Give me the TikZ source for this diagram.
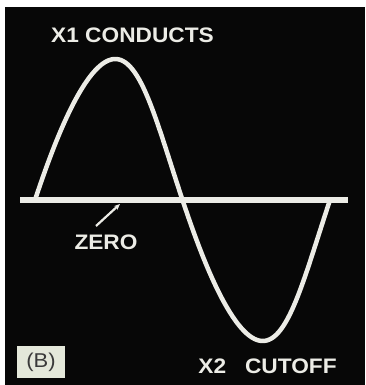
\documentclass[tikz,border=0pt]{standalone}
\usepackage{fontspec}
\setmainfont{Liberation Sans}
\usetikzlibrary{arrows.meta,positioning}
\definecolor{Scope}{HTML}{070707}
\definecolor{Trace}{HTML}{ECECE6}
\definecolor{Tag}{HTML}{E4E8DA}
\definecolor{TagInk}{HTML}{3A3A3A}
\tikzset{
  >=Stealth,
  trace/.style={draw=Trace,line width=4.5pt,line cap=round,line join=round},
  axisline/.style={draw=Trace,line width=5.5pt},
  caption/.style={text=Trace,font=\fontsize{21}{24}\selectfont\bfseries,inner sep=0pt,xscale=1.08},
  pointer/.style={-{Stealth[length=6pt,width=5pt]},draw=Trace,line width=2.2pt},
  tagbox/.style={fill=Tag,draw=none,minimum width=48pt,minimum height=32pt,inner sep=0pt,text=TagInk,font=\fontsize{20}{22}\selectfont}
}
\begin{document}
\begin{tikzpicture}[x=1pt,y=-1pt]
  \useasboundingbox (0,0) rectangle (365,385);
  \fill[white] (0,0) rectangle (365,385);
  \fill[Scope] (5,7) rectangle (365,385);
  % zero line and the full cycle
  \coordinate (axl) at (20,200);
  \coordinate (axr) at (348,200);
  \draw[axisline] (axl) -- (axr);
  \draw[trace] plot[domain=0:360,samples=120,variable=\t]
    ({35+147.5*(\t/180)+3.25*(1-cos(2*\t))},{200-141*sin(\t)});
  % labels
  \node[caption] (top) at (132.5,35) {X1 CONDUCTS};
  \node[caption] (bot) at (267.5,366.5) {X2\hspace{17.5pt}CUTOFF};
  \node[caption] (zero) at (106,242.5) {ZERO};
  \coordinate (ptrtail) at (96,226);
  \coordinate (zeropt) at (120,204);
  \draw[pointer] (ptrtail) -- (zeropt);
  \node[tagbox] (tag) at (41,362) {\scalebox{1.1}[1]{(B)}};
\end{tikzpicture}
\end{document}
